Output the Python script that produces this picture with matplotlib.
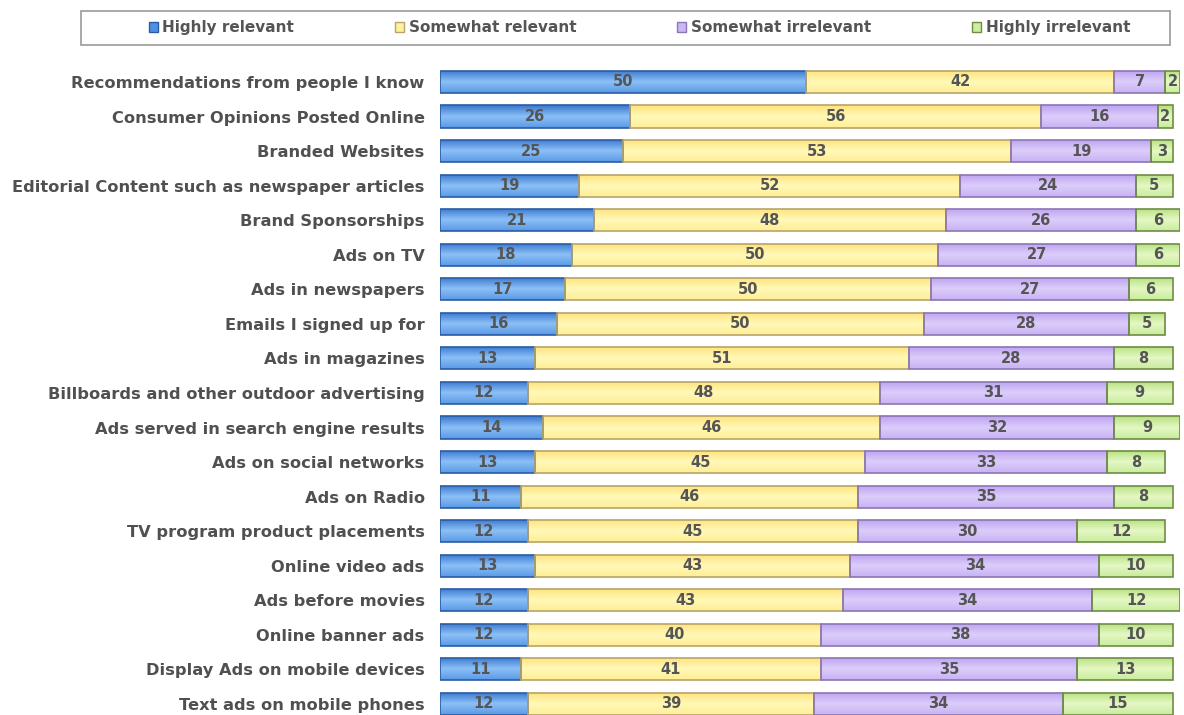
import numpy as np
import matplotlib.pyplot as plt
from matplotlib.patches import Patch, Rectangle
from matplotlib.colors import LinearSegmentedColormap

categories = [
    "Recommendations from people I know",
    "Consumer Opinions Posted Online",
    "Branded Websites",
    "Editorial Content such as newspaper articles",
    "Brand Sponsorships",
    "Ads on TV",
    "Ads in newspapers",
    "Emails I signed up for",
    "Ads in magazines",
    "Billboards and other outdoor advertising",
    "Ads served in search engine results",
    "Ads on social networks",
    "Ads on Radio",
    "TV program product placements",
    "Online video ads",
    "Ads before movies",
    "Online banner ads",
    "Display Ads on mobile devices",
    "Text ads on mobile phones",
]
highly_relevant = [50, 26, 25, 19, 21, 18, 17, 16, 13, 12, 14, 13, 11, 12, 13, 12, 12, 11, 12]
somewhat_relevant = [42, 56, 53, 52, 48, 50, 50, 50, 51, 48, 46, 45, 46, 45, 43, 43, 40, 41, 39]
somewhat_irrelevant = [7, 16, 19, 24, 26, 27, 27, 28, 28, 31, 32, 33, 35, 30, 34, 34, 38, 35, 34]
highly_irrelevant = [2, 2, 3, 5, 6, 6, 6, 5, 8, 9, 9, 8, 8, 12, 10, 12, 10, 13, 15]

series_names = ["Highly relevant", "Somewhat relevant", "Somewhat irrelevant", "Highly irrelevant"]
series = [highly_relevant, somewhat_relevant, somewhat_irrelevant, highly_irrelevant]
faces = ["#4f90e2", "#fff29c", "#cbb6f6", "#cbeea2"]
edges = ["#2b5ca6", "#b9a46a", "#8b76b4", "#6f8c45"]
# top -> middle -> bottom shading of each bar
shades = [
    ["#3a78d0", "#8cc0f6", "#5a9ae6"],
    ["#ffe27a", "#fff8b8", "#ffee96"],
    ["#bda2f0", "#dccdfa", "#c8b2f4"],
    ["#b6e07e", "#e4f8c4", "#c8ec9c"],
]

fig = plt.figure(figsize=(11.84, 7.15), dpi=100)
ax = fig.add_axes([0.3716, 0.0, 0.625, 0.9095])

grad = np.linspace(0, 1, 64).reshape(-1, 1)
y = list(range(len(categories)))
left = [0] * len(categories)
for name, vals, ec, sh in zip(series_names, series, edges, shades):
    cmap = LinearSegmentedColormap.from_list(name, sh)
    bars = ax.barh(y, vals, left=left, height=0.64, facecolor="none", edgecolor=ec,
                   linewidth=1.2, zorder=3)
    for b, v in zip(bars, vals):
        x0, y0, w, h = b.get_x(), b.get_y(), b.get_width(), b.get_height()
        im = ax.imshow(grad, cmap=cmap, aspect="auto", extent=(x0, x0 + w, y0 + h, y0),
                       origin="upper", zorder=2, interpolation="bilinear")
        im.set_clip_path(b)
        ax.text(x0 + w / 2, y0 + h / 2, str(v), ha="center", va="center",
                fontsize=10.5, color="#555555", fontweight="bold", zorder=4)
    left = [l + v for l, v in zip(left, vals)]

ax.set_xlim(0, 101)
ax.set_ylim(18.32, -0.5)
ax.set_aspect("auto")
ax.set_yticks(y)
ax.set_yticklabels(categories, fontsize=11.7, color="#505050", fontweight="bold")
ax.tick_params(axis="y", length=0, pad=11)
ax.set_xticks([])
for s in ax.spines.values():
    s.set_visible(False)

# legend frame spanning the top
fig.patches.append(Rectangle((0.068, 0.937), 0.92, 0.048, transform=fig.transFigure,
                             facecolor="white", edgecolor="#999999", linewidth=1.2))
handles = [Patch(facecolor=fc, edgecolor=ec, linewidth=1) for fc, ec in zip(faces, edges)]
leg = fig.legend(handles, series_names, loc="center left", bbox_to_anchor=(0.119, 0.961),
                 ncol=4, fontsize=11, frameon=False, columnspacing=6.6,
                 handlelength=0.6, handleheight=0.6, handletextpad=0.3, borderpad=0.0)
for t in leg.get_texts():
    t.set_color("#555555")
    t.set_fontweight("bold")

fig.savefig("out.png", dpi=100)
